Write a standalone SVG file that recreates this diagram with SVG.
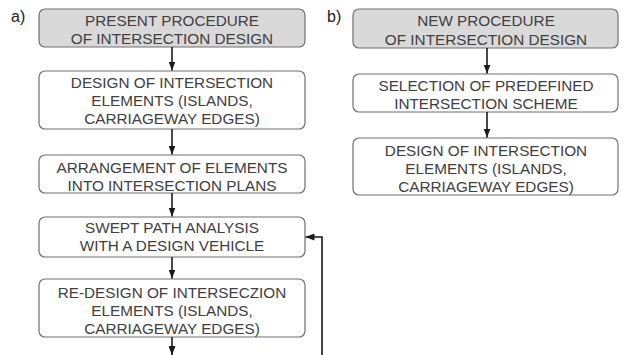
<svg xmlns="http://www.w3.org/2000/svg" width="626" height="355" viewBox="0 0 626 355">
<style>
.box{fill:#fff;stroke:#707070;stroke-width:1.2}
.hd{fill:#d9d9d9}
.t{font-family:"Liberation Sans",Arial,sans-serif;font-size:15.3px;fill:#404040;text-anchor:middle}
.lbl{font-family:"Liberation Sans",Arial,sans-serif;font-size:16px;fill:#222}
.c{stroke:#1a1a1a;stroke-width:1.6;fill:none}
</style>
<defs>
<marker id="ah" viewBox="0 0 9 7" refX="9" refY="3.5" markerWidth="9" markerHeight="7" orient="auto" markerUnits="userSpaceOnUse">
<path d="M0,0 L9,3.5 L0,7 z" fill="#1a1a1a"/>
</marker>
</defs>
<text class="lbl" x="11" y="22">a)</text>
<text class="lbl" x="327" y="22">b)</text>
<g id="a1"><rect class="box hd" x="39" y="9" width="266" height="38" rx="6"/>
<text class="t" x="172" y="26">PRESENT PROCEDURE</text><text class="t" x="172" y="44">OF INTERSECTION DESIGN</text></g>
<g id="a2"><rect class="box" x="39" y="71" width="266" height="58" rx="6"/>
<text class="t" x="172" y="88">DESIGN OF INTERSECTION</text><text class="t" x="172" y="106">ELEMENTS (ISLANDS,</text><text class="t" x="172" y="124">CARRIAGEWAY EDGES)</text></g>
<g id="a3"><rect class="box" x="39" y="155" width="266" height="38" rx="6"/>
<text class="t" x="172" y="172.5">ARRANGEMENT OF ELEMENTS</text><text class="t" x="172" y="190.5">INTO INTERSECTION PLANS</text></g>
<g id="a4"><rect class="box" x="39" y="217" width="266" height="40" rx="6"/>
<text class="t" x="172" y="233">SWEPT PATH ANALYSIS</text><text class="t" x="172" y="251">WITH A DESIGN VEHICLE</text></g>
<g id="a5"><rect class="box" x="39" y="279" width="266" height="58" rx="6"/>
<text class="t" x="172" y="298">RE-DESIGN OF INTERSECZION</text><text class="t" x="172" y="316">ELEMENTS (ISLANDS,</text><text class="t" x="172" y="334">CARRIAGEWAY EDGES)</text></g>
<g id="b1"><rect class="box hd" x="353" y="9" width="265" height="39" rx="6"/>
<text class="t" x="486" y="26">NEW PROCEDURE</text><text class="t" x="486" y="44.5">OF INTERSECTION DESIGN</text></g>
<g id="b2"><rect class="box" x="353" y="74" width="265" height="38" rx="6"/>
<text class="t" x="486" y="91">SELECTION OF PREDEFINED</text><text class="t" x="486" y="109">INTERSECTION SCHEME</text></g>
<g id="b3"><rect class="box" x="353" y="138" width="265" height="57" rx="6"/>
<text class="t" x="486" y="156">DESIGN OF INTERSECTION</text><text class="t" x="486" y="174">ELEMENTS (ISLANDS,</text><text class="t" x="486" y="192">CARRIAGEWAY EDGES)</text></g>
<g id="connectors">
<line class="c" x1="172" y1="47" x2="172" y2="70.5" marker-end="url(#ah)"/>
<line class="c" x1="172" y1="129" x2="172" y2="154.5" marker-end="url(#ah)"/>
<line class="c" x1="172" y1="193" x2="172" y2="216.5" marker-end="url(#ah)"/>
<line class="c" x1="172" y1="257" x2="172" y2="278.5" marker-end="url(#ah)"/>
<line class="c" x1="172" y1="337" x2="172" y2="355" marker-end="url(#ah)"/>
<polyline class="c" points="322,355 322,237 305.5,237" marker-end="url(#ah)"/>
<line class="c" x1="487" y1="48" x2="487" y2="73.5" marker-end="url(#ah)"/>
<line class="c" x1="487" y1="112" x2="487" y2="137.5" marker-end="url(#ah)"/>
</g>
</svg>
